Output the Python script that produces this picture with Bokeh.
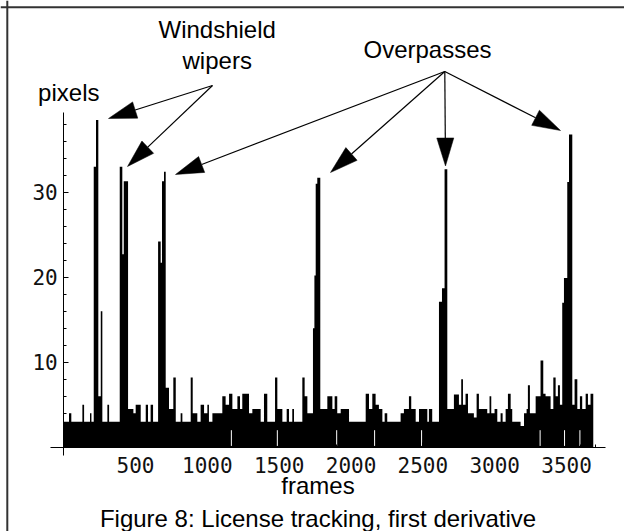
import math
from bokeh.plotting import figure
from bokeh.models import Range1d, FixedTicker, Span
from bokeh.core.properties import value
from bokeh.embed import file_html
from bokeh.resources import INLINE

# ---------------- data ----------------
# upper envelope of the first-derivative trace, as steps: frame where a step starts, its level in pixels
step_frame = [0, 37, 53, 130, 142, 183, 193, 209, 225, 241, 258, 269, 304, 316,
              390, 408, 418, 448, 485, 501, 536, 571, 587, 605, 622,
              657, 675, 684, 698, 710, 733, 763, 780, 814, 826, 884, 898, 930, 953, 977,
              1000, 1011, 1035, 1104, 1127, 1151, 1174, 1209, 1227, 1243, 1290, 1313, 1371,
              1394, 1417, 1471, 1487, 1522, 1552, 1568, 1591, 1603, 1661, 1677, 1696,
              1735, 1745, 1754, 1765, 1786, 1835, 1870, 1886, 1904, 1928, 1986,
              2102, 2125, 2148, 2171, 2194, 2218, 2234, 2252, 2345, 2368, 2403, 2419, 2450,
              2473, 2531, 2542, 2565, 2612, 2633, 2651, 2670, 2716, 2751, 2767, 2779, 2797,
              2814, 2855, 2874, 2890, 2948, 2964, 2976, 2999, 3018, 3041, 3055, 3076, 3092,
              3111, 3122, 3180, 3204, 3222, 3231, 3245, 3285, 3319, 3338, 3354, 3389, 3408,
              3424, 3440, 3454, 3470, 3482, 3505, 3517, 3540, 3556, 3575, 3593, 3609, 3633,
              3649, 3667]
step_pixels = [3, 4, 3, 5, 3, 4, 3, 33, 38.5, 6, 16, 3, 5, 3,
               33, 22.7, 31.3, 4.5, 4, 5, 3, 5, 3, 5, 3,
               24.2, 21.7, 31.3, 32.4, 7, 4.5, 8.2, 3, 4, 3, 8.2, 4, 3, 5, 4,
               5, 3, 4, 6, 5, 6.3, 4.5, 6, 4.5, 6.3, 4, 4.5, 3,
               6.3, 3, 8.2, 4.5, 3, 4.5, 3, 4.5, 3, 8.2, 6, 4,
               14, 20.2, 31, 31.7, 4.5, 6, 4.5, 6, 4, 4.5, 3,
               6.3, 4.5, 6.3, 5, 4.5, 3, 4, 3, 4, 4.5, 6, 4.5, 3,
               4.5, 3, 4.5, 3, 17.1, 18.7, 32.7, 4.5, 6.2, 5, 8, 5, 6.3,
               4, 3.5, 6.3, 4.5, 4, 6, 4, 4.5, 3, 4, 3, 4.5, 6.3,
               4.5, 3, 2.5, 4, 4.5, 7.3, 4, 6, 10.2, 6.3, 6, 4.5, 8.2,
               6, 7.3, 5, 17, 19.9, 31.2, 36.8, 5, 8, 4.5, 6, 4.5, 6.3,
               5, 6.3]
last_frame = 3686
# frames where the dense trace leaves a thin white gap
gap_frames = [1167, 1487, 1900, 2164, 2491, 3316, 3486, 3593]

x_ticks = [500, 1000, 1500, 2000, 2500, 3000, 3500]
x_minor = [f for f in range(100, 3800, 100) if f % 500 != 0]
y_ticks = [10, 20, 30]
y_minor = [v for v in range(2, 40, 2) if v % 10 != 0]

# ---------------- layout ----------------
W, H = 624, 531
X0 = 63.2                 # frame 0, px from figure left
PXF = 0.14367             # px per frame
Y0 = 446.7                # value 0, px from figure top
PXU = 8.5                 # px per pixel-unit

x_start, x_end = -X0 / PXF, (W - X0) / PXF
y_start, y_end = -(H - Y0) / PXU, Y0 / PXU

def dx(px):   # screen x -> frame
    return (px - X0) / PXF

def dy(py):   # screen y -> value
    return (Y0 - py) / PXU

p = figure(width=W, height=H, x_range=Range1d(x_start, x_end), y_range=Range1d(y_start, y_end),
           output_backend="svg", toolbar_location=None, min_border=0)
p.grid.visible = False
p.outline_line_color = None
p.background_fill_color = "white"
p.border_fill_color = "white"

# trace
xs = step_frame + [last_frame]
ys = step_pixels + [step_pixels[-1]]
p.varea_step(x=xs, y1=[0] * len(xs), y2=ys, step_mode="after", fill_color="black")
p.segment(x0=gap_frames, y0=[0.15] * len(gap_frames), x1=gap_frames, y1=[2.0] * len(gap_frames),
          line_color="white", line_width=1)

# axes crossing at the origin
xa = p.xaxis[0]
xa.fixed_location = 0
xa.bounds = (-92, 3771)
xa.ticker = FixedTicker(ticks=x_ticks, minor_ticks=x_minor)
ya = p.yaxis[0]
ya.fixed_location = 0
ya.bounds = (-0.98, 39.4)
ya.ticker = FixedTicker(ticks=y_ticks, minor_ticks=y_minor)
for ax in (xa, ya):
    ax.axis_line_color = "black"
    ax.axis_line_width = 1
    ax.major_tick_in = 5
    ax.major_tick_out = 0
    ax.minor_tick_in = 3
    ax.minor_tick_out = 0
    ax.major_tick_line_color = "black"
    ax.minor_tick_line_color = "black"
    ax.major_label_text_font = "DejaVu Sans Mono"
    ax.major_label_text_font_size = "21px"
    ax.major_label_text_color = "#111111"
xa.major_label_standoff = 10
ya.major_label_standoff = 6

# frame lines of the figure box (top and left)
p.add_layout(Span(location=dy(6.8), dimension="width", line_color="#333333", line_width=2))
p.add_layout(Span(location=dx(6.8), dimension="height", line_color="#333333", line_width=2))

# texts (baseline positions, screen px)
txt = ["pixels", "Windshield", "wipers", "Overpasses", "frames",
       "Figure 8: License tracking, first derivative"]
tx_page = [68.3, 216.7, 216.7, 427.0, 317.5, 317.5]
ty_page = [92.0, 28.7, 60.3, 49.3, 485.0, 518.0]
p.text(x=[dx(v) for v in tx_page], y=[dy(v) for v in ty_page], text=txt,
       text_font=value("Liberation Sans"), text_font_size=value("24px"),
       text_align="center", text_baseline="alphabetic", text_color="black")

# arrows (tail -> tip, screen px)
arrows = [((212, 85), (108, 118)), ((212, 85), (127, 166)),
          ((444.3, 71), (175, 174)), ((444.3, 71), (330, 172)),
          ((444.3, 71), (445, 165.5)), ((444.3, 71), (560, 130))]
HEAD_L, HEAD_W = 28, 17
x0s, y0s, x1s, y1s, hx, hy = [], [], [], [], [], []
for (tx, ty), (kx, ky) in arrows:
    ddx, ddy = kx - tx, ky - ty
    n = math.hypot(ddx, ddy)
    ux, uy = ddx / n, ddy / n
    bx, by = kx - HEAD_L * ux, ky - HEAD_L * uy
    px_, py_ = -uy, ux
    x0s.append(dx(tx)); y0s.append(dy(ty)); x1s.append(dx(bx)); y1s.append(dy(by))
    hx.append([dx(kx), dx(bx + px_ * HEAD_W / 2), dx(bx - px_ * HEAD_W / 2)])
    hy.append([dy(ky), dy(by + py_ * HEAD_W / 2), dy(by - py_ * HEAD_W / 2)])
p.segment(x0=x0s, y0=y0s, x1=x1s, y1=y1s, line_color="black", line_width=1.2)
p.patches(xs=hx, ys=hy, fill_color="black", line_color="black", line_width=0.5)

open("out.html", "w").write(file_html(p, INLINE))
